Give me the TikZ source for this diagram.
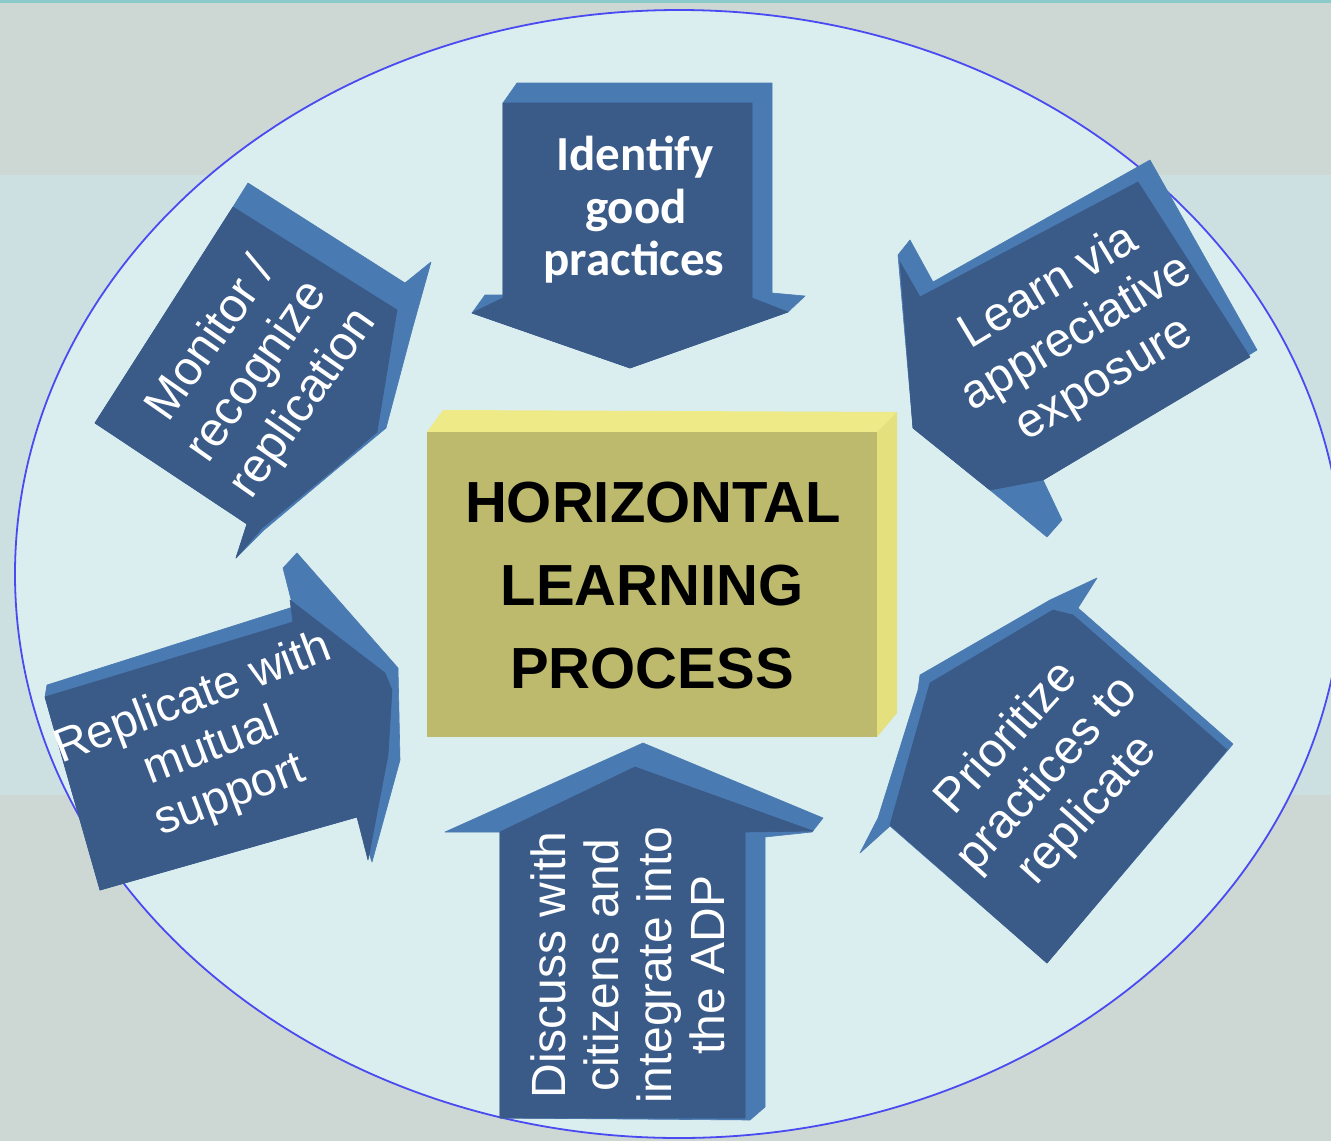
\documentclass[tikz,border=0pt]{standalone}
\usepackage{fontspec}
\setmainfont{Liberation Sans}
\newfontfamily\carl{Carlito}
\definecolor{bgtop}{HTML}{CDD8D4}
\definecolor{bgmid}{HTML}{CCE0E1}
\definecolor{ellfill}{HTML}{DAEDEF}
\definecolor{ellline}{HTML}{4A4AF2}
\definecolor{arfront}{HTML}{3A5A88}
\definecolor{arside}{HTML}{4A7AB2}
\definecolor{boxfront}{HTML}{BDBA6E}
\definecolor{boxlight}{HTML}{EEEA88}
\definecolor{boxside}{HTML}{E4E07E}
\definecolor{topline}{HTML}{8CCACA}
\begin{document}
\begin{tikzpicture}[x=1pt,y=-1pt,
  sideface/.style={fill=arside, draw=arside, line width=0.6pt, line join=round},
  frontface/.style={fill=arfront, draw=arfront, line width=0.6pt, line join=round},
  lbl/.style={text=white, align=center, font=\fontsize{48}{54}\selectfont, inner sep=0pt},
  toplbl/.style={text=white, anchor=base, inner sep=0pt, font=\carl\bfseries\fontsize{49}{54}\selectfont},
  centrelbl/.style={text=black, anchor=base, font=\fontsize{58}{60}\selectfont\bfseries, inner sep=0pt},
]
\useasboundingbox (0,0) rectangle (1331,1141);
% background bands
\fill[bgtop] (0,0) rectangle (1331,1141);
\fill[bgmid] (0,175) rectangle (1331,795);
\fill[topline] (0,0) rectangle (1331,3);
% big ellipse
\filldraw[fill=ellfill, draw=ellline, line width=1.8pt] (679,574) ellipse [x radius=664, y radius=564];

% top arrow
\path[sideface] (503,103) -- (517,83) -- (772,83) -- (772,293) -- (805,296) -- (788,312) -- (630,368) -- (472,313) -- (485,295) -- (503,295) -- cycle;
\path[frontface] (503,103) -- (752,103) -- (752,298) -- (788,312) -- (630,368) -- (472,313) -- (503,298) -- cycle;

% bottom arrow
\path[sideface] (445,832) -- (643,743) -- (823,818) -- (812,832) -- (765,837) -- (765,1107) -- (750,1120) -- (500,1118) -- (500,832) -- cycle;
\path[frontface] (500,832) -- (635,767) -- (813,831) -- (745,832) -- (745,1118) -- (500,1118) -- cycle;

% monitor arrow (upper left)
\path[sideface] (95,423) -- (233,207) -- (248,183) -- (405,283) -- (431,262) -- (412,330) -- (386,428) -- (333,472) -- (264,530) -- (236,558) -- (247,524) -- cycle;
\path[frontface] (95,423) -- (233,207) -- (397,310) -- (377,432) -- (333,470) -- (262,528) -- (236,558) -- (247,524) -- cycle;

% replicate arrow (lower left)
\path[sideface] (45,697) -- (47,685) -- (293,607) -- (283,568) -- (297,553) -- (398,668) -- (400,760) -- (372,862) -- (357,817) -- (100,890) -- cycle;
\path[frontface] (45,697) -- (293,622) -- (290,600) -- (385,673) -- (392,690) -- (388,755) -- (368,860) -- (357,817) -- (100,890) -- cycle;

% learn arrow (upper right)
\path[sideface] (898,255) -- (910,240) -- (933,282) -- (1150,160) -- (1257,350) -- (1043,480) -- (1062,520) -- (1047,537) -- (990,490) -- (913,428) -- cycle;
\path[frontface] (1138,182) -- (1250,357) -- (1043,480) -- (990,490) -- (913,428) -- (900,262) -- (920,297) -- cycle;

% prioritize arrow (lower right)
\path[sideface] (920,675) -- (1050,600) -- (1097,578) -- (1078,608) -- (1233,744) -- (1047,963) -- (890,826) -- (860,853) -- (878,818) -- (918,690) -- cycle;
\path[frontface] (930,683) -- (1053,610) -- (1073,615) -- (1227,750) -- (1047,963) -- (890,825) -- cycle;

% centre box
\fill[boxlight] (427,432) -- (443,410) -- (897,412) -- (877,432) -- cycle;
\fill[boxside] (877,432) -- (897,412) -- (897,713) -- (877,737) -- cycle;
\fill[boxfront] (427,432) rectangle (877,737);
\node[centrelbl] (c1) at (653,522) {HORIZONTAL};
\node[centrelbl] (c2) at (652,605) {LEARNING};
\node[centrelbl] (c3) at (652,688) {PROCESS};

% arrow labels
\node[toplbl] (t1) at (635,170) {Identify};
\node[toplbl] (t2) at (636,223) {good};
\node[toplbl] (t3) at (634,275) {practices};

\node[lbl, rotate=55, font=\fontsize{48}{56}\selectfont] (mon) at (258,372) {Monitor /\\recognize\\replication};
\node[lbl, rotate=31] (learn) at (1077,334) {Learn via\\appreciative\\exposure};
\node[lbl, rotate=48] (prio) at (1048,775) {Prioritize\\practices to\\replicate};
\node[lbl, rotate=21, font=\fontsize{47}{52}\selectfont] (repl) at (212,748) {Replicate with\\mutual\\support};
\node[lbl, rotate=90, font=\fontsize{48}{53}\selectfont] (disc) at (628,965) {Discuss with\\citizens and\\integrate into\\the ADP};
\end{tikzpicture}
\end{document}
